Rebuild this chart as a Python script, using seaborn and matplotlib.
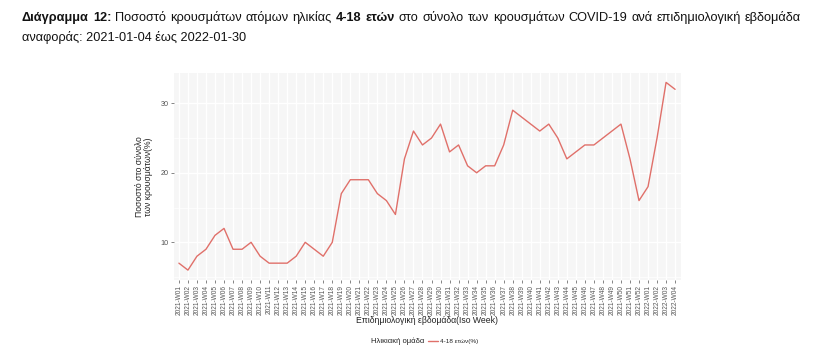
import matplotlib
matplotlib.use("Agg")
import matplotlib.pyplot as plt
import seaborn as sns
import pandas as pd
from matplotlib.ticker import MultipleLocator

# ISO weeks 2021-W01 .. 2022-W04
weeks = [f"2021-W{w:02d}" for w in range(1, 53)] + [f"2022-W{w:02d}" for w in range(1, 5)]
pct_4_18 = [7, 6, 8, 9, 11, 12, 9, 9, 10, 8,
            7, 7, 7, 8, 10, 9, 8, 10, 17, 19,
            19, 19, 17, 16, 14, 22, 26, 24, 25, 27,
            23, 24, 21, 20, 21, 21, 24, 29, 28, 27,
            26, 27, 25, 22, 23, 24, 24, 25, 26, 27,
            22, 16, 18, 25, 33, 32]
series_label = "4-18 ετών(%)"
legend_title = "Ηλικιακή ομάδα"

title_line1 = [("Διάγραμμα", True), ("12:", True), ("Ποσοστό", False), ("κρουσμάτων", False),
               ("ατόμων", False), ("ηλικίας", False), ("4-18", True), ("ετών", True),
               ("στο", False), ("σύνολο", False), ("των", False), ("κρουσμάτων", False),
               ("COVID-19", False), ("ανά", False), ("επιδημιολογική", False), ("εβδομάδα", False)]
title_line2 = "αναφοράς: 2021-01-04 έως 2022-01-30"

df = pd.DataFrame({"week": weeks, "pct": pct_4_18})

sns.set_theme(style="white")
plt.rcParams["font.family"] = ["Liberation Sans", "DejaVu Sans"]

W, H = 814, 360
fig = plt.figure(figsize=(W / 100, H / 100), dpi=100)
ax = fig.add_axes([173.5 / W, 1 - 279.5 / H, (680.5 - 173.5) / W, (279.5 - 73) / H])
ax.set_facecolor("#F6F6F6")

sns.lineplot(data=df, x="week", y="pct", ax=ax, color="#E0706A", linewidth=1.0,
             label=series_label, sort=False)

# ggplot-like expansion
n = len(weeks)
ax.set_xlim(-0.6, n - 1 + 0.6)
lo, hi = min(pct_4_18), max(pct_4_18)
pad = (hi - lo) * 0.05
ax.set_ylim(lo - pad, hi + pad)
ax.yaxis.set_major_locator(MultipleLocator(10))
ax.yaxis.set_minor_locator(MultipleLocator(5))
ax.grid(True, which="major", color="white", linewidth=0.9)
ax.grid(True, which="minor", axis="y", color="white", linewidth=0.5)
ax.set_axisbelow(True)
for s in ax.spines.values():
    s.set_visible(False)

ax.set_xticks(range(n))
ax.set_xticklabels(weeks, rotation=90, fontsize=4.7, color="#555555")
ax.tick_params(axis="y", labelsize=5.2, labelcolor="#555555")
ax.tick_params(axis="both", which="major", length=2.2, width=0.5, color="#555555",
               bottom=True, left=True, pad=1.5)
ax.tick_params(axis="y", which="minor", length=0)

ax.set_xlabel("Επιδημιολογική εβδομάδα(Iso Week)", fontsize=6.2, color="#222222", labelpad=1.0)
ax.set_ylabel("Ποσοστό στο σύνολο\nτων κρουσμάτων(%)", fontsize=6.2, color="#222222",
              labelpad=5, linespacing=1.0)

# legend at the bottom, title to the left of the key
leg = ax.legend(loc="center left", bbox_to_anchor=(428 / W, 1 - 341 / H),
                bbox_transform=fig.transFigure, frameon=False, fontsize=4.6,
                handlelength=1.5, handletextpad=0.4, borderpad=0, borderaxespad=0)
fig.text(371 / W, 1 - 341 / H, legend_title, fontsize=5.5, color="#222222", va="center")

# justified title line
renderer = fig.canvas.get_renderer()
left_px, right_px = 22, 801
tfont = ["Liberation Sans Narrow", "Liberation Sans", "DejaVu Sans"]
texts = []
for word, bold in title_line1:
    t = fig.text(0, 1 - 18 / H, word, fontsize=9.2, family=tfont,
                 fontweight="bold" if bold else "normal", va="center", color="#111111")
    texts.append(t)
widths = [t.get_window_extent(renderer).width for t in texts]
gap = (right_px - left_px - sum(widths)) / (len(texts) - 1)
x = left_px
for t, w in zip(texts, widths):
    t.set_x(x / W)
    x += w + gap
fig.text(left_px / W, 1 - 37 / H, title_line2, fontsize=9.2, family=tfont,
         va="center", color="#111111")

fig.savefig("out.png", dpi=100)
